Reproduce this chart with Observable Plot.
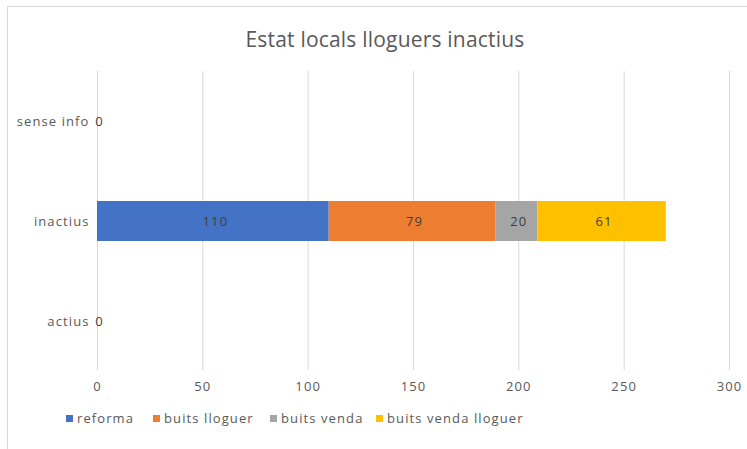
<!DOCTYPE html>
<html>
<head>
<meta charset="utf-8">
<script src="https://cdn.jsdelivr.net/npm/d3@7"></script>
<script src="https://cdn.jsdelivr.net/npm/@observablehq/plot@0.6"></script>
<style>
  html, body { margin: 0; padding: 0; background: #fff; }
  #frame { position: relative; width: 747px; height: 449px; overflow: hidden; font-family: "Open Sans", sans-serif; color: #595959; }
  #border { position: absolute; left: 7px; top: 6px; width: 745px; height: 445px; border: 1px solid #d9d9d9; box-sizing: border-box; }
  #title { position: absolute; left: 0; width: 770px; top: 25px; text-align: center; font-size: 21px; letter-spacing: 0.2px; line-height: 28px; color: #595959; }
  #chart { position: absolute; left: 0; top: 60px; }
  #legend { position: absolute; top: 409px; left: 0; width: 747px; height: 20px; font-size: 13px; letter-spacing: 1.1px; color: #595959; white-space: nowrap; }
  .item { position: absolute; top: 0; display: flex; align-items: center; height: 18px; }
  .sw { width: 7px; height: 7px; margin-right: 4px; }
</style>
</head>
<body>
<div id="frame">
  <div id="border"></div>
  <div id="title">Estat locals lloguers inactius</div>
  <div id="chart"></div>
  <div id="legend"></div>
</div>
<script>
const categories = ["sense info", "inactius", "actius"];
const series = ["reforma", "buits lloguer", "buits venda", "buits venda lloguer"];
const colors = ["#4472C4", "#ED7D31", "#A5A5A5", "#FFC000"];
const valuesActius = [0, 0, 0, 0];
const valuesInactius = [110, 79, 20, 61];
const valuesSenseInfo = [0, 0, 0, 0];
const xTicks = [0, 50, 100, 150, 200, 250, 300];

const byCat = {"actius": valuesActius, "inactius": valuesInactius, "sense info": valuesSenseInfo};
const data = [];
for (const c of categories) {
  series.forEach((s, i) => data.push({cat: c, series: s, value: byCat[c][i]}));
}
// one "0" label per empty row (the stacked zero labels coincide)
const labelData = data.filter(d => d.value > 0 || d.series === series[0]);

const chart = Plot.plot({
  width: 747,
  height: 340,
  marginLeft: 97,
  marginRight: 18,
  marginTop: 11,
  marginBottom: 30,
  style: {fontFamily: "'Open Sans', sans-serif", fontSize: "13px", color: "#595959", background: "transparent", letterSpacing: "1.1px"},
  x: {domain: [0, 300], ticks: xTicks},
  y: {domain: categories, paddingInner: 0.6, paddingOuter: 0.29},
  color: {domain: series, range: colors},
  marks: [
    Plot.gridX(xTicks, {stroke: "#d9d9d9", strokeOpacity: 1}),
    Plot.axisX(xTicks, {tickSize: 0, tickPadding: 11, fill: "#595959", label: null, fontSize: 13}),
    Plot.axisY({tickSize: 0, tickPadding: 8, fill: "#595959", label: null, fontSize: 13}),
    Plot.barX(data, Plot.stackX({y: "cat", x: "value", fill: "series", order: series})),
    Plot.text(labelData, Plot.stackX({y: "cat", x: "value", z: "series", order: series, text: d => String(d.value), fill: "#404040", dx: 2, fontSize: 13}))
  ]
});
document.getElementById("chart").appendChild(chart);

const legendLefts = [66, 153, 270, 376];
const legend = document.getElementById("legend");
series.forEach((s, i) => {
  const it = document.createElement("div");
  it.className = "item";
  it.style.left = legendLefts[i] + "px";
  const sw = document.createElement("div");
  sw.className = "sw";
  sw.style.background = colors[i];
  const tx = document.createElement("span");
  tx.textContent = s;
  it.appendChild(sw);
  it.appendChild(tx);
  legend.appendChild(it);
});
</script>
</body>
</html>
